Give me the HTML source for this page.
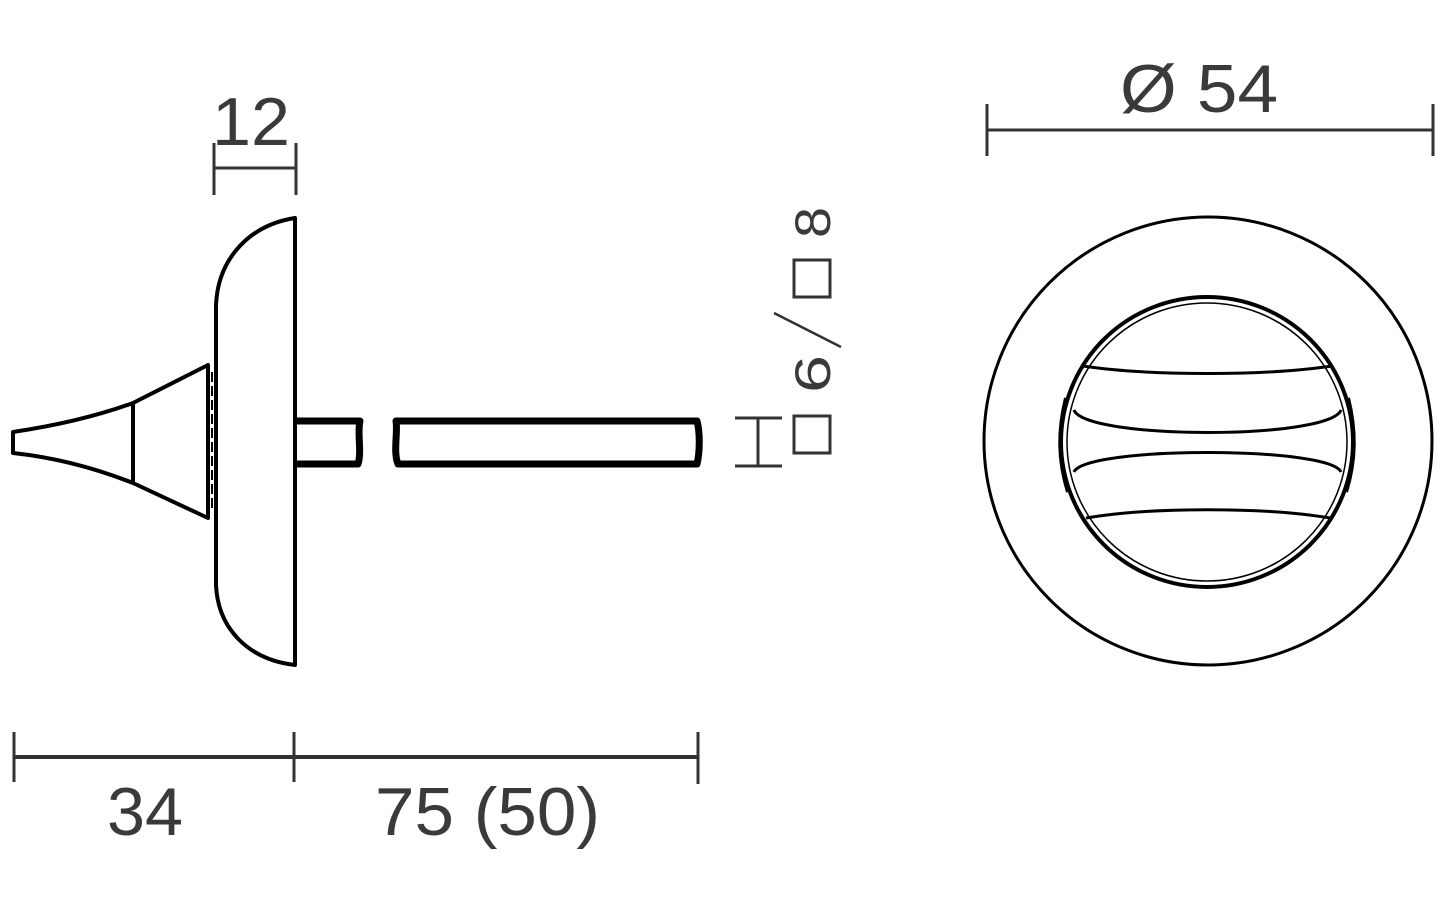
<!DOCTYPE html>
<html><head><meta charset="utf-8"><style>html,body{margin:0;padding:0;background:#fff}svg{display:block}</style></head>
<body>
<svg width="1440" height="900" viewBox="0 0 1440 900" xmlns="http://www.w3.org/2000/svg">
<g fill="none" stroke="#000" stroke-width="4" stroke-linejoin="round">
  <path d="M295,218 L295,665 C250,660 218,630 216,585 L216,305 C218,258 250,225 295,218 Z"/>
  <path d="M13,432 C60,425 100,415 133,403 L208,365 L208,518 L133,483 C100,470 60,458 13,453 Z"/>
  <line x1="133" y1="403" x2="133" y2="483"/>
  <line x1="212" y1="372" x2="212" y2="512" stroke-width="2" stroke-dasharray="10,4"/>
  <path d="M295,421 L360,421 C357,432 362,452 358,464 L295,464" stroke-width="7"/>
  <path d="M396,421 L697,421 C700,432 700,452 697,464 L398,464 C393,452 398,432 396,421 Z" stroke-width="7"/>
</g>
<g stroke="#333" stroke-width="3" fill="none">
  <line x1="735" y1="418" x2="782" y2="418"/><line x1="735" y1="466" x2="782" y2="466"/><line x1="758" y1="418" x2="758" y2="466"/>
  <line x1="14" y1="757" x2="698" y2="757" stroke-width="4"/>
  <line x1="14" y1="732" x2="14" y2="782"/><line x1="294" y1="732" x2="294" y2="782"/><line x1="698" y1="732" x2="698" y2="784"/>
  <line x1="214" y1="168" x2="296" y2="168"/><line x1="214" y1="143" x2="214" y2="195"/><line x1="296" y1="143" x2="296" y2="195"/>
  <line x1="987" y1="130" x2="1433" y2="130"/><line x1="987" y1="104" x2="987" y2="156"/><line x1="1433" y1="104" x2="1433" y2="156"/>
  <rect x="794" y="416" width="36" height="37" stroke-width="3"/>
  <rect x="794" y="260" width="36" height="37" stroke-width="3"/>
  <line x1="774" y1="313" x2="841" y2="347" stroke-width="2.5"/>
</g>
<g fill="none" stroke="#000" stroke-width="3">
  <circle cx="1208" cy="441" r="224"/>
  <ellipse cx="1207" cy="442" rx="146" ry="145" stroke-width="4"/>
  <ellipse cx="1207" cy="442" rx="140" ry="139" stroke-width="1.5"/>
  <path d="M1083,366 C1150,376 1265,376 1332,366"/>
  <path d="M1074,410 C1085,440 1330,440 1341,410"/>
  <path d="M1074,472 C1085,446 1330,446 1341,472"/>
  <path d="M1086,518 C1150,507 1265,507 1330,518"/>
  <path d="M1066,398 C1058,430 1058,460 1068,492" stroke-width="4"/>
  <path d="M1348,398 C1356,430 1356,460 1346,492" stroke-width="4"/>
</g>
<g font-family="'Liberation Sans',sans-serif" fill="#3a3a3a" font-size="68">
  <text x="107" y="835" textLength="76" lengthAdjust="spacingAndGlyphs">34</text>
  <text x="375" y="835" textLength="225" lengthAdjust="spacingAndGlyphs">75 (50)</text>
  <text x="212" y="145" textLength="78" lengthAdjust="spacingAndGlyphs">12</text>
  <text x="1120" y="112" textLength="158" lengthAdjust="spacingAndGlyphs">Ø 54</text>
  <text transform="translate(830,393) rotate(-90)" font-size="50" textLength="38" lengthAdjust="spacingAndGlyphs">6</text>
  <text transform="translate(830,238) rotate(-90)" font-size="50" textLength="31" lengthAdjust="spacingAndGlyphs">8</text>
</g>
</svg>
</body></html>
